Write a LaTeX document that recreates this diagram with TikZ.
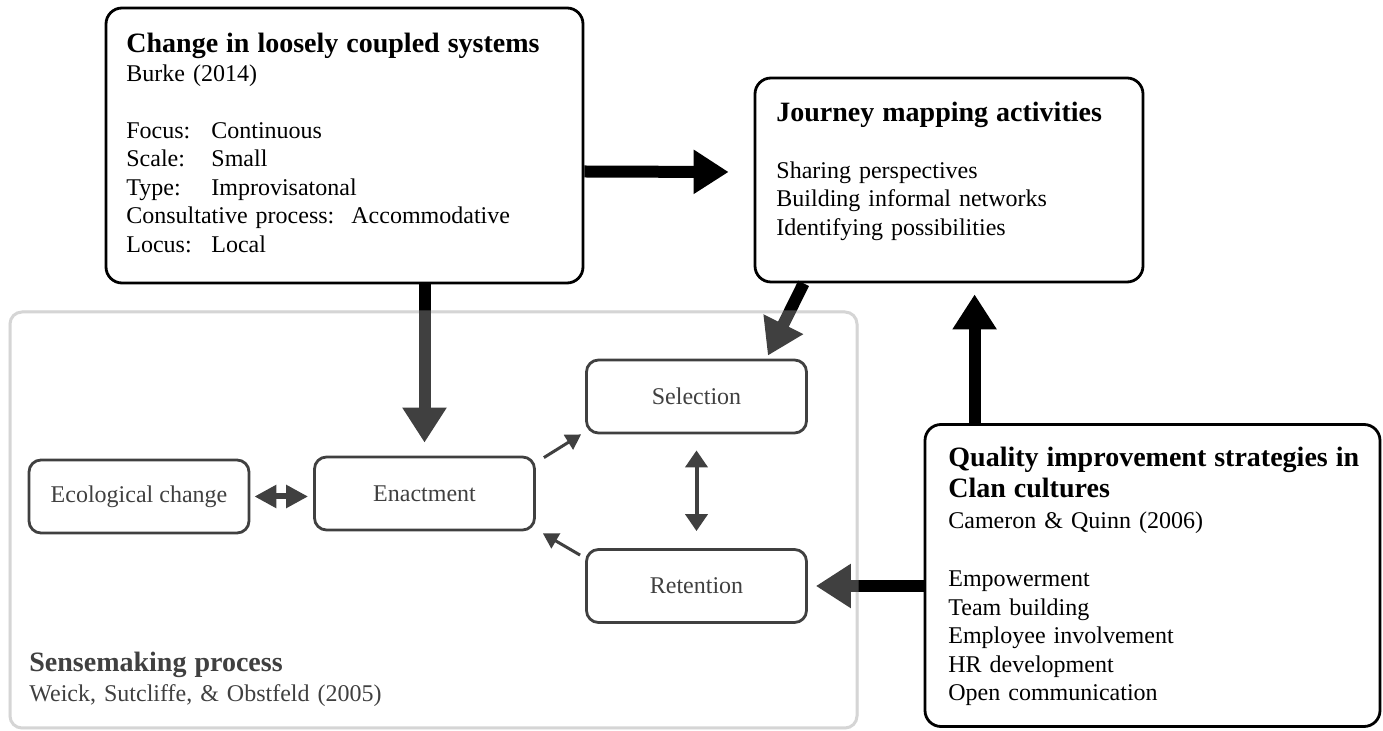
\documentclass[tikz,border=0pt]{standalone}
\usepackage{fontspec}
\setmainfont{Liberation Serif}
\usetikzlibrary{arrows.meta}
\newcommand{\tabcol}[1]{\makebox[42.5pt][l]{#1}}
\newcommand{\boxtitle}[1]{{\fontsize{14}{14.25}\selectfont\bfseries #1}}

\begin{document}
\begin{tikzpicture}[x=0.5pt,y=-0.5pt,
    bigbox/.style={draw, line width=1.4pt, rounded corners=8pt, fill=white},
    stagebox/.style={draw, line width=1.4pt, rounded corners=6pt, minimum width=110pt,
        minimum height=36.5pt, font=\fontsize{12}{14.25}\selectfont},
    boxtext/.style={anchor=base west, inner sep=0pt, text width=#1, align=left,
        font=\fontsize{12}{14.25}\selectfont},
    bigarrow/.style={line width=6pt, -{Triangle[length=17.5pt,width=21pt]}},
    smallarrow/.style={line width=1.5pt, -{Triangle[length=7.5pt,width=8.5pt]}}
]
    \useasboundingbox (0,0) rectangle (1383,731);

    % sensemaking frame
    \node[draw=black!22, line width=1.5pt, rounded corners=6pt, minimum width=423.5pt,
        minimum height=208pt] (sense) at (433.5,520) {};

    % sensemaking stages
    \node[stagebox] (eco) at (139,496.5) {Ecological change};
    \node[stagebox] (enact) at (424.5,493.5) {Enactment};
    \node[stagebox] (select) at (696.5,396.5) {Selection};
    \node[stagebox] (retent) at (696.5,586) {Retention};

    \draw[line width=3pt, {Triangle[length=11pt,width=11pt]}-{Triangle[length=11pt,width=11pt]},
        shorten <=2pt, shorten >=2.5pt] (eco.east) -- (eco.east -| enact.west);
    \draw[smallarrow] ([xshift=4pt,yshift=-1pt]enact.north east) -- ([xshift=-2pt]select.south west);
    \draw[smallarrow] ([xshift=-2.5pt,yshift=-3.5pt]retent.north west) -- ([xshift=3.5pt,yshift=-1pt]enact.south east);
    \draw[line width=2pt, {Triangle[length=8.5pt,width=11pt]}-{Triangle[length=8.5pt,width=11pt]},
        shorten <=8pt, shorten >=8.5pt] (select.south) -- (retent.north);

    \node[boxtext=200pt] (sensetxt) at (29,672)
        {\boxtitle{Sensemaking process}\\[0.75pt]
         Weick, Sutcliffe, \& Obstfeld (2005)};

    % outer boxes
    \node[bigbox, minimum width=238.5pt, minimum height=137.5pt] (change) at (344.5,145.5) {};
    \node[bigbox, minimum width=194pt, minimum height=102pt] (journey) at (949,180) {};
    \node[bigbox, minimum width=227.5pt, minimum height=151pt] (quality) at (1152.5,575.5) {};

    \node[boxtext=225pt] (changetxt) at (126,53)
        {\boxtitle{Change in loosely coupled systems}\\
         Burke (2014)\\[14.25pt]
         \tabcol{Focus:}Continuous\\
         \tabcol{Scale:}Small\\
         \tabcol{Type:}Improvisatonal\\
         Consultative process:\hspace{8.5pt}Accommodative\\
         \tabcol{Locus:}Local};
    \node[boxtext=180pt] (journeytxt) at (776,122)
        {\boxtitle{Journey mapping activities}\\[14pt]
         Sharing perspectives\\
         Building informal networks\\
         Identifying possibilities};
    \node[boxtext=215pt] (qualitytxt) at (948,467)
        {\boxtitle{Quality improvement strategies in}\\[1.25pt]
         \boxtitle{Clan cultures}\\[1.25pt]
         Cameron \& Quinn (2006)\\[14.75pt]
         Empowerment\\
         Team building\\
         Employee involvement\\
         HR development\\
         Open communication};

    % influences
    \coordinate (qtop) at ([xshift=25.5pt]quality.north west);
    \draw[bigarrow] ([yshift=-13pt]change.east) -- ([xshift=-12.5pt,yshift=4pt]journey.west);
    \draw[bigarrow] (enact.north |- change.south) -- ([yshift=6.5pt]enact.north);
    \draw[bigarrow] ([xshift=25pt]journey.south west) -- ([xshift=-20pt,yshift=1.5pt]select.north east);
    \draw[bigarrow, shorten >=5.5pt] (qtop) -- (qtop |- journey.south);
    \draw[bigarrow] (retent.east -| quality.west) -- ([xshift=4pt]retent.east);

    % fade the sensemaking part
    \fill[white, fill opacity=0.25, rounded corners=6pt] (sense.north west) rectangle (sense.south east);
\end{tikzpicture}
\end{document}
